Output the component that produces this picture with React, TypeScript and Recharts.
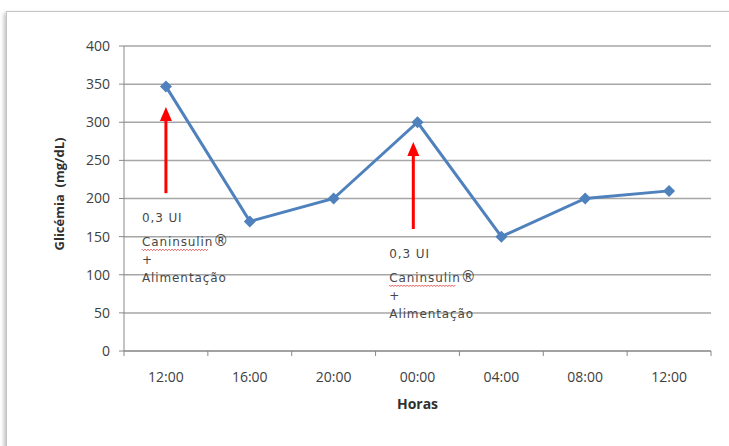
import { LineChart, Line, XAxis, YAxis, CartesianGrid, ReferenceLine } from "recharts";

const horas = ["12:00", "16:00", "20:00", "00:00", "04:00", "08:00", "12:00"];
const glicemia = [347, 170, 200, 300, 150, 200, 210];
const yTicks = [0, 50, 100, 150, 200, 250, 300, 350, 400];

// setas de aplicação de insulina (posição no eixo x e faixa em mg/dL)
const doseX = [0, 2.95];
const doseFrom = [207, 160];
const doseTo = [320, 274];
const doseText = ["0,3 UI", "Caninsulin®", "+", "Alimentação"];

const data = horas.map((h, i) => ({ i, h, g: glicemia[i] }));
const xTicks = horas.flatMap((_, i) => [i - 0.5, i]).concat(horas.length - 0.5);

const tickColor = "#404040";
const font = "'Open Sans', sans-serif";

function XTick(props: any) {
  const { x, y, payload } = props;
  const v = payload.value as number;
  if (!Number.isInteger(v)) {
    return <line x1={x} y1={y} x2={x} y2={y + 5} stroke="#888" strokeWidth={1} />;
  }
  return (
    <text x={x} y={y + 31} textAnchor="middle" fill={tickColor} fontSize={14} fontFamily={font}>
      {horas[v]}
    </text>
  );
}

function Diamond(props: any) {
  const { cx, cy } = props;
  return <path d={`M${cx},${cy - 6}L${cx + 6},${cy}L${cx},${cy + 6}L${cx - 6},${cy}Z`} fill="#4f81bd" />;
}

function Dose(props: any) {
  const { x1, y1, y2 } = props;
  const bottom = Math.max(y1, y2);
  const top = Math.min(y1, y2);
  const tx = x1 - 24;
  const ty = bottom + 29;
  const gaps = [0, 24, 42, 60];
  let wave = `M${tx},${ty + 27}`;
  for (let k = 0; k < 44; k++) wave += `l1.5,${k % 2 ? -1.5 : 1.5}`;
  return (
    <g>
      <line x1={x1} y1={bottom} x2={x1} y2={top + 12} stroke="#ff0000" strokeWidth={3} />
      <path d={`M${x1},${top}L${x1 + 6},${top + 14}L${x1 - 6},${top + 14}Z`} fill="#ff0000" />
      {doseText.map((t, k) => (
        <text
          key={k}
          x={tx}
          y={ty + gaps[k]}
          fill="#474747"
          fontSize={12}
          letterSpacing={0.9}
          fontFamily="'DejaVu Sans', sans-serif"
        >
          {k === 1 ? (
            <>
              Caninsulin<tspan fontSize={15}>®</tspan>
            </>
          ) : (
            t
          )}
        </text>
      ))}
      <path d={wave} fill="none" stroke="#e03030" strokeWidth={0.8} />
    </g>
  );
}

function YLabel() {
  return (
    <text
      x={59}
      y={194}
      transform="rotate(-90 59 194)"
      textAnchor="middle"
      dominantBaseline="central"
      fill="#303030"
      fontSize={13}
      fontWeight="bold"
      fontFamily={font}
    >
      Glicémia {"\u00a0"}(mg/dL)
    </text>
  );
}

export default function App() {
  return (
    <div style={{ position: "fixed", left: 0, top: 0, width: 729, height: 446, background: "#fff", overflow: "hidden" }}>
      <div
        style={{
          position: "absolute",
          left: 6,
          top: 11,
          width: 800,
          height: 500,
          border: "1px solid #c4c4c4",
          boxShadow: "-2px 2px 4px rgba(0,0,0,0.25)",
        }}
      />
      <div style={{ position: "absolute", left: 0, top: 0 }}>
        <LineChart width={729} height={446} data={data} margin={{ top: 46, right: 18, left: 64, bottom: 65 }}>
          <CartesianGrid vertical={false} stroke="#a6a6a6" strokeWidth={1.5} />
          <XAxis
            dataKey="i"
            type="number"
            domain={[-0.5, horas.length - 0.5]}
            ticks={xTicks}
            interval={0}
            tick={<XTick />}
            tickLine={false}
            tickSize={0}
            tickMargin={0}
            stroke="#888"
            height={30}
            label={{
              value: "Horas",
              position: "insideBottom",
              offset: -28,
              fill: "#303030",
              fontSize: 14,
              fontWeight: "bold",
              fontFamily: font,
            }}
          />
          <YAxis
            domain={[0, 400]}
            ticks={yTicks}
            interval={0}
            width={60}
            stroke="#888"
            tickSize={5}
            tickMargin={9}
            tick={{ fill: tickColor, fontSize: 14, fontFamily: font }}
            label={<YLabel />}
          />
          <Line
            type="linear"
            dataKey="g"
            stroke="#4f81bd"
            strokeWidth={3}
            dot={<Diamond />}
            activeDot={false}
            isAnimationActive={false}
          />
          {doseX.map((x, k) => (
            <ReferenceLine
              key={k}
              segment={[
                { x, y: doseFrom[k] },
                { x, y: doseTo[k] },
              ]}
              shape={<Dose />}
            />
          ))}
        </LineChart>
      </div>
    </div>
  );
}
